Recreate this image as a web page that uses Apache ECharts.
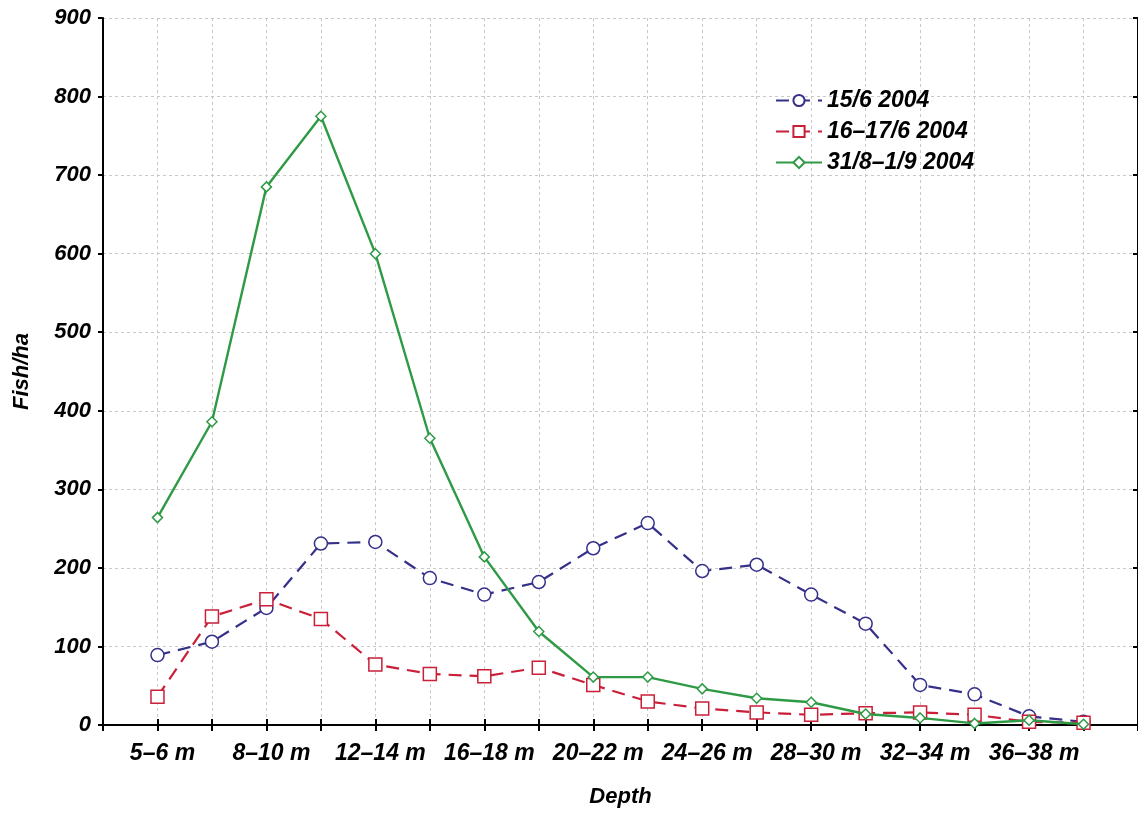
<!DOCTYPE html>
<html>
<head>
<meta charset="utf-8">
<script src="https://cdn.jsdelivr.net/npm/echarts@6/dist/echarts.min.js"></script>
<style>
html,body{margin:0;padding:0;background:#fff;}
#chart{width:1138px;height:814px;}
</style>
</head>
<body>
<div id="chart"></div>
<script>
var categories = ['5–6 m','6–8 m','8–10 m','10–12 m','12–14 m','14–16 m','16–18 m','18–20 m','20–22 m','22–24 m','24–26 m','26–28 m','28–30 m','30–32 m','32–34 m','34–36 m','36–38 m','38–40 m'];
var s1Name = '15/6 2004';
var s1 = [89, 106, 149, 231, 233, 187, 166, 182, 225, 257, 196, 204, 166, 129, 51, 39, 11, 4];
var s2Name = '16–17/6 2004';
var s2 = [36, 138, 160, 135, 77, 65, 62, 73, 51, 30, 21, 16, 13, 15, 16, 13, 4, 3];
var s3Name = '31/8–1/9 2004';
var s3 = [264, 386, 685, 775, 600, 365, 214, 119, 61, 61, 46, 34, 29, 14, 9, 2, 6, 1];
var yTicks = [0, 100, 200, 300, 400, 500, 600, 700, 800, 900];

var axisCats = [''].concat(categories).concat(['']);
function pad(arr){ return ['-'].concat(arr).concat(['-']); }

var font = {fontFamily: 'Liberation Sans, Arial, sans-serif', fontWeight: 'bold', fontStyle: 'italic', fontSize: 22, color: '#000'};
var navy = '#35308a', red = '#c91f38', green = '#2f9a46';

var chart = echarts.init(document.getElementById('chart'));
chart.setOption({
  animation: false,
  backgroundColor: '#fff',
  grid: {left: 103, right: -2, top: 18, bottom: 89, containLabel: false},
  legend: {
    orient: 'vertical', left: 770, top: 84, itemWidth: 46, itemHeight: 14, itemGap: 8,
    textStyle: Object.assign({}, font, {fontSize: 23}),
    data: [s1Name, s2Name, s3Name]
  },
  xAxis: [{
    type: 'category', data: axisCats, boundaryGap: false,
    name: 'Depth', nameLocation: 'middle', nameGap: 61,
    nameTextStyle: Object.assign({}, font),
    axisLine: {lineStyle: {color: '#000', width: 2}},
    axisTick: {inside: true, length: 6, interval: 0, lineStyle: {color: '#000', width: 2}},
    axisLabel: Object.assign({}, font, {fontSize: 23, margin: 17, padding: [0, 0, 0, 10], interval: function(i){ return i % 2 === 1 && i <= 17; }}),
    splitLine: {show: true, interval: 0, lineStyle: {color: '#c8c8c8', type: [3, 3], width: 1}}
  }, {
    type: 'category', data: axisCats, boundaryGap: false, position: 'top',
    axisLine: {lineStyle: {color: '#000', width: 2}},
    axisTick: {inside: true, length: 6, interval: 0, lineStyle: {color: '#000', width: 2}},
    axisLabel: {show: false}, splitLine: {show: false}
  }],
  yAxis: [{
    type: 'value', min: yTicks[0], max: yTicks[yTicks.length - 1], interval: 100,
    name: 'Fish/ha', nameLocation: 'middle', nameGap: 70,
    nameTextStyle: Object.assign({}, font),
    axisLine: {show: true, lineStyle: {color: '#000', width: 2}},
    axisTick: {show: true, length: 5, lineStyle: {color: '#000', width: 2}},
    axisLabel: Object.assign({}, font, {margin: 12}),
    splitLine: {show: true, lineStyle: {color: '#c8c8c8', type: [3, 3], width: 1}}
  }, {
    type: 'value', min: yTicks[0], max: yTicks[yTicks.length - 1], interval: 100, position: 'right',
    axisLine: {show: true, lineStyle: {color: '#000', width: 2}},
    axisTick: {show: true, inside: true, length: 5, lineStyle: {color: '#000', width: 2}},
    axisLabel: {show: false}, splitLine: {show: false}
  }],
  series: [{
    name: s1Name, type: 'line', data: pad(s1), symbol: 'circle', symbolSize: 13,
    lineStyle: {color: navy, width: 2.2, type: [13, 8]},
    itemStyle: {color: '#fff', borderColor: navy, borderWidth: 1.5}, z: 3
  }, {
    name: s2Name, type: 'line', data: pad(s2), symbol: 'rect', symbolSize: 13,
    lineStyle: {color: red, width: 2.2, type: [13, 8]},
    itemStyle: {color: '#fff', borderColor: red, borderWidth: 1.5}, z: 4
  }, {
    name: s3Name, type: 'line', data: pad(s3), symbol: 'diamond', symbolSize: 10,
    lineStyle: {color: green, width: 2.4, type: 'solid'},
    itemStyle: {color: '#fff', borderColor: green, borderWidth: 1.5}, z: 5
  }]
});
</script>
</body>
</html>
